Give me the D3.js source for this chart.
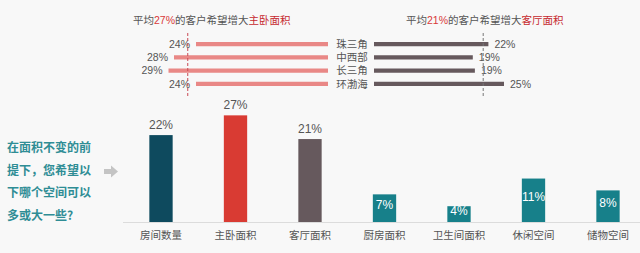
<!DOCTYPE html>
<html>
<head>
<meta charset="utf-8">
<script src="https://cdn.jsdelivr.net/npm/d3@7"></script>
<style>
  body { margin: 0; background: #f8f8f8; }
  svg { display: block; font-family: "Liberation Sans", "Noto Sans CJK SC", sans-serif; }
</style>
</head>
<body>
<svg></svg>
<script>
// top: regional comparison
var regions = ['珠三角', '中西部', '长三角', '环渤海'];
var masterBedroom = [24, 28, 29, 24];
var livingRoom = [22, 19, 19.4, 25];
var masterAvgMark = 25.5, livingAvgMark = 21;

// bottom: which space should be bigger
var spaces = ['房间数量', '主卧面积', '客厅面积', '厨房面积', '卫生间面积', '休闲空间', '储物空间'];
var shares = [22, 27, 21, 7, 4, 11, 8];
var barColors = ['#0e4a5e', '#d93b33', '#66595d', '#17808a', '#17808a', '#17808a', '#17808a'];
var question = ['在面积不变的前', '提下，您希望以', '下哪个空间可以', '多或大一些?'];

var width = 640, height = 253;
var svg = d3.select('svg').attr('width', width).attr('height', height);

// ---- titles
function title(x, parts) {
  var t = svg.append('text').attr('x', x).attr('y', 24).style('font-size', '10.5px');
  parts.forEach(function (p) {
    t.append('tspan').text(p[0]).attr('fill', p[1]);
  });
}
title(133, [['平均', '#555'], ['27%', '#d9393a'], ['的客户希望增大', '#555'], ['主卧面积', '#c62a2f']]);
title(406, [['平均', '#555'], ['21%', '#d9393a'], ['的客户希望增大', '#555'], ['客厅面积', '#c62a2f']]);

// ---- top bars
var yRow = d3.scaleBand().domain(regions).range([33, 95]).padding(0.68);
var xLeft = d3.scaleLinear().domain([0, 30]).range([328, 328 - 165]);
var xRight = d3.scaleLinear().domain([0, 30]).range([374, 374 + 156]);

var rows = svg.append('g');
rows.selectAll('rect.l').data(masterBedroom).enter().append('rect')
  .attr('x', function (d) { return xLeft(d); })
  .attr('y', function (d, i) { return yRow(regions[i]); })
  .attr('width', function (d) { return xLeft(0) - xLeft(d); })
  .attr('height', yRow.bandwidth())
  .attr('fill', '#e98886');
rows.selectAll('text.l').data(masterBedroom).enter().append('text')
  .attr('x', function (d) { return xLeft(d) - 6; })
  .attr('y', function (d, i) { return yRow(regions[i]) + yRow.bandwidth() / 2; })
  .attr('dy', '0.35em').attr('text-anchor', 'end')
  .attr('fill', '#555').style('font-size', '10.5px')
  .text(function (d) { return d + '%'; });

rows.selectAll('rect.r').data(livingRoom).enter().append('rect')
  .attr('x', xRight(0))
  .attr('y', function (d, i) { return yRow(regions[i]); })
  .attr('width', function (d) { return xRight(d) - xRight(0); })
  .attr('height', yRow.bandwidth())
  .attr('fill', '#66595d');
rows.selectAll('text.r').data(livingRoom).enter().append('text')
  .attr('x', function (d) { return xRight(d) + 6; })
  .attr('y', function (d, i) { return yRow(regions[i]) + yRow.bandwidth() / 2; })
  .attr('dy', '0.35em')
  .attr('fill', '#555').style('font-size', '10.5px')
  .text(function (d) { return Math.round(d) + '%'; });

rows.selectAll('text.c').data(regions).enter().append('text')
  .attr('x', 352)
  .attr('y', function (d) { return yRow(d) + yRow.bandwidth() / 2; })
  .attr('dy', '0.35em').attr('text-anchor', 'middle')
  .attr('fill', '#555').style('font-size', '10.5px')
  .text(function (d) { return d; });

[[xLeft(masterAvgMark), '#c94a55'], [xRight(livingAvgMark), '#777']].forEach(function (p) {
  svg.append('line')
    .attr('x1', p[0]).attr('x2', p[0]).attr('y1', 33).attr('y2', 96)
    .attr('stroke', p[1]).attr('stroke-width', 1).attr('stroke-dasharray', '3,2');
});

// ---- bottom bars
var x = d3.scaleBand().domain(spaces).range([123.75, 645.25]).paddingInner(0.687).paddingOuter(0.3435);
var y = d3.scaleLinear().domain([0, 30]).range([222, 222 - 118.5]);

svg.append('line').attr('x1', 123).attr('x2', 640).attr('y1', y(0) + 0.5).attr('y2', y(0) + 0.5)
  .attr('stroke', '#dcdcdc');

svg.selectAll('rect.bar').data(shares).enter().append('rect')
  .attr('class', 'bar')
  .attr('x', function (d, i) { return x(spaces[i]); })
  .attr('y', function (d) { return y(d); })
  .attr('width', x.bandwidth())
  .attr('height', function (d) { return y(0) - y(d); })
  .attr('fill', function (d, i) { return barColors[i]; });

svg.selectAll('text.val').data(shares).enter().append('text')
  .attr('x', function (d, i) { return x(spaces[i]) + x.bandwidth() / 2; })
  .attr('y', function (d) { return d > 15 ? y(d) - 6 : (y(d) + y(0)) / 2 - 3; })
  .attr('dy', function (d) { return d > 15 ? 0 : '0.35em'; })
  .attr('text-anchor', 'middle')
  .attr('fill', function (d) { return d > 15 ? '#555' : '#fff'; })
  .style('font-size', '12px')
  .text(function (d) { return d + '%'; });

svg.selectAll('text.cat').data(spaces).enter().append('text')
  .attr('x', function (d) { return x(d) + x.bandwidth() / 2; })
  .attr('y', 239)
  .attr('text-anchor', 'middle')
  .attr('fill', '#555').style('font-size', '10.5px')
  .text(function (d) { return d; });

// ---- question text + arrow
svg.selectAll('text.q').data(question).enter().append('text')
  .attr('x', 7)
  .attr('y', function (d, i) { return 152 + i * 22.5; })
  .attr('fill', '#2f8d95').style('font-size', '12px').style('font-weight', 'bold')
  .style('font-family', '"Noto Sans CJK SC", sans-serif')
  .text(function (d) { return d; });

svg.append('path')
  .attr('d', 'M104,169H111V165.5L118,171.5L111,177.5V174H104Z')
  .attr('fill', '#c4c4c4');
</script>
</body>
</html>
